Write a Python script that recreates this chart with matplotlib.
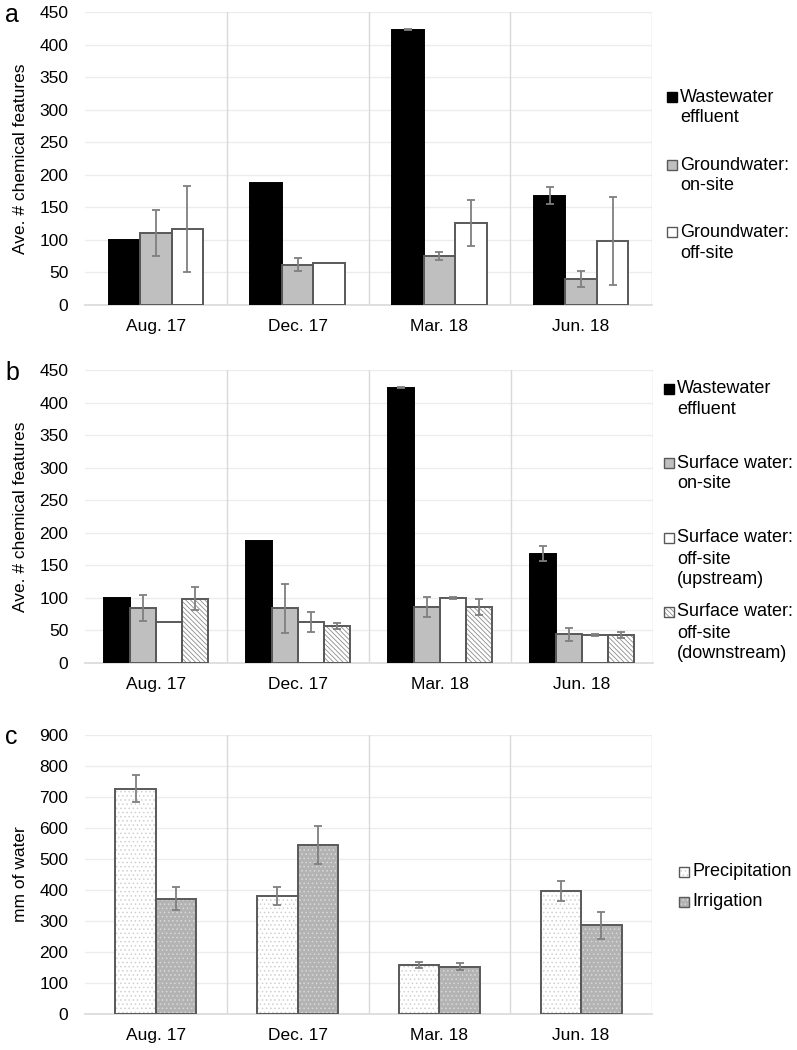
import matplotlib

matplotlib.use("Agg")
import matplotlib.pyplot as plt
import numpy as np
from matplotlib.patches import Rectangle

plt.rcParams["font.family"] = ["Liberation Sans", "DejaVu Sans"]
plt.rcParams["hatch.linewidth"] = 0.6

months = ["Aug. 17", "Dec. 17", "Mar. 18", "Jun. 18"]

# panel a: groundwater
ww_a = [100, 187, 423, 168]
ww_a_err = [0, 0, 1, 13]
gw_on = [111, 62, 75, 40]
gw_on_err = [35, 10, 6, 12]
gw_off = [116, 64, 126, 98]
gw_off_err = [66, 0, 36, 68]

# panel b: surface water
ww_b = [100, 187, 423, 168]
ww_b_err = [0, 0, 1, 12]
sw_on = [84, 84, 86, 44]
sw_on_err = [20, 38, 15, 10]
sw_up = [63, 63, 100, 43]
sw_up_err = [0, 15, 1, 1]
sw_down = [99, 57, 86, 43]
sw_down_err = [18, 5, 13, 4]

# panel c: water inputs
precip = [727, 381, 158, 398]
precip_err = [43, 28, 9, 32]
irrig = [372, 546, 153, 286]
irrig_err = [37, 61, 10, 44]

GRID = "#d9d9d9"
EDGE = "#595959"
ERR = "#7f7f7f"
GRAY = "#bfbfbf"
DIAG = "\\" * 7
DOTS = "...."
W, H = 797, 1050


def px_axes(fig, left, top, right, bottom):
    return fig.add_axes([left / W, 1 - bottom / H, (right - left) / W, (bottom - top) / H])


def style_axes(ax, ymax, step, ylabel):
    n = len(months)
    ax.set_xlim(-0.5, n - 0.5)
    ax.set_ylim(0, ymax)
    ax.set_yticks(np.arange(0, ymax + 1, step))
    ax.set_xticks(range(n))
    ax.set_xticklabels(months)
    ax.tick_params(axis="both", length=0, labelsize=12.5, colors="#000000")
    ax.tick_params(axis="y", pad=12)
    ax.tick_params(axis="x", pad=10)
    for y in np.arange(step, ymax + 1, step):
        ax.axhline(y, color="#ececec", lw=1, zorder=0)
    for x in np.arange(0.5, n, 1.0):
        ax.axvline(x, color=GRID, lw=1, zorder=0)
    for s in ["top", "right", "left"]:
        ax.spines[s].set_visible(False)
    ax.spines["bottom"].set_color(GRID)
    ax.spines["bottom"].set_linewidth(1.2)
    ax.set_ylabel(ylabel, fontsize=12.5, labelpad=8)


def draw_bars(ax, series, width):
    x = np.arange(len(months))
    k = len(series)
    for i, (vals, errs, face, edge, hatch, hcol) in enumerate(series):
        pos = x + (i - (k - 1) / 2) * width
        ax.bar(pos, vals, width, color=face, edgecolor="none", linewidth=0, zorder=2)
        if hatch:
            ax.bar(pos, vals, width, color="none", edgecolor=hcol, hatch=hatch, linewidth=0, zorder=3)
        ax.bar(pos, vals, width, color="none", edgecolor=edge, linewidth=1.4, zorder=4)
        e = np.array(errs, dtype=float)
        mask = e > 0
        ax.errorbar(pos[mask], np.array(vals)[mask], yerr=e[mask], fmt="none",
                    ecolor=ERR, elinewidth=1.3, capsize=3, capthick=1.3, zorder=5)


def legend_entries(fig, x, entries, line_h=21, box=10, fontsize=13):
    for y, label, face, edge, hatch, hcol in entries:
        corner = (x / W, 1 - (y + box / 2) / H)
        fig.add_artist(Rectangle(corner, box / W, box / H, transform=fig.transFigure,
                                 facecolor=face, edgecolor=hcol if hatch else edge,
                                 hatch=hatch, lw=0))
        fig.add_artist(Rectangle(corner, box / W, box / H, transform=fig.transFigure,
                                 facecolor="none", edgecolor=edge, lw=1.0))
        for j, line in enumerate(label.split("\n")):
            fig.text((x + box + 3) / W, 1 - (y + j * line_h) / H, line,
                     fontsize=fontsize, va="center", ha="left")


fig = plt.figure(figsize=(W / 100, H / 100), dpi=100)

# --- a
ax_a = px_axes(fig, 85, 12, 652, 305)
draw_bars(ax_a, [
    (ww_a, ww_a_err, "black", "black", None, None),
    (gw_on, gw_on_err, GRAY, EDGE, None, None),
    (gw_off, gw_off_err, "white", EDGE, None, None),
], 0.222)
style_axes(ax_a, 450, 50, "Ave. # chemical features")
legend_entries(fig, 667, [
    (97, "Wastewater\neffluent", "black", "black", None, None),
    (165, "Groundwater:\non-site", GRAY, EDGE, None, None),
    (232, "Groundwater:\noff-site", "white", EDGE, None, None),
])

# --- b
ax_b = px_axes(fig, 85, 370, 653, 663)
draw_bars(ax_b, [
    (ww_b, ww_b_err, "black", "black", None, None),
    (sw_on, sw_on_err, GRAY, EDGE, None, None),
    (sw_up, sw_up_err, "white", EDGE, None, None),
    (sw_down, sw_down_err, "white", EDGE, DIAG, "#8c8c8c"),
], 0.183)
style_axes(ax_b, 450, 50, "Ave. # chemical features")
legend_entries(fig, 664, [
    (389, "Wastewater\neffluent", "black", "black", None, None),
    (463, "Surface water:\non-site", GRAY, EDGE, None, None),
    (538, "Surface water:\noff-site\n(upstream)", "white", EDGE, None, None),
    (612, "Surface water:\noff-site\n(downstream)", "white", EDGE, DIAG, "#8c8c8c"),
])

# --- c
ax_c = px_axes(fig, 85, 735, 652, 1014)
draw_bars(ax_c, [
    (precip, precip_err, "white", EDGE, DOTS, "#d0d0d0"),
    (irrig, irrig_err, "#b3b3b3", EDGE, DOTS, "#d8d8d8"),
], 0.285)
style_axes(ax_c, 900, 100, "mm of water")
legend_entries(fig, 679, [
    (872, "Precipitation", "white", EDGE, DOTS, "#d0d0d0"),
    (902, "Irrigation", "#b3b3b3", EDGE, DOTS, "#d8d8d8"),
])

for letter, y in [("a", 15), ("b", 373), ("c", 737)]:
    fig.text(5 / W, 1 - y / H, letter, fontsize=18, va="center", ha="left")

fig.savefig("out.png", dpi=100)
